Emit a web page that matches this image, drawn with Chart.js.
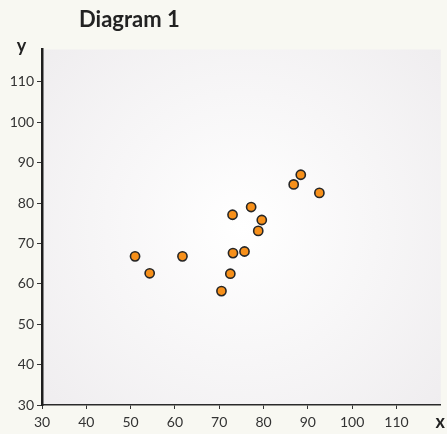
<!DOCTYPE html>
<html>
<head>
<meta charset="utf-8">
<script src="https://cdn.jsdelivr.net/npm/chart.js@4/dist/chart.umd.min.js"></script>
<style>
  html, body { margin: 0; padding: 0; background: #f8f8f2; }
  #wrap { width: 447px; height: 434px; }
</style>
</head>
<body>
<div id="wrap"><canvas id="c" width="447" height="434"></canvas></div>
<script>
const chartTitle = 'Diagram 1';
const xAxisLabel = 'x';
const yAxisLabel = 'y';
const xValues = [51.0, 54.3, 61.7, 70.5, 72.5, 73.1, 75.7, 73.0, 77.2, 79.6, 78.8, 86.8, 88.4, 92.6];
const yValues = [66.8, 62.6, 66.8, 58.2, 62.5, 67.6, 68.0, 77.1, 79.0, 75.8, 73.1, 84.6, 87.0, 82.5];
const xTicks = [30, 40, 50, 60, 70, 80, 90, 100, 110];
const yTicks = [30, 40, 50, 60, 70, 80, 90, 100, 110];
const xRange = [30, 120];
const yRange = [30, 118];

const points = xValues.map((x, i) => ({ x: x, y: yValues[i] }));

const decor = {
  id: 'decor',
  beforeDraw(chart) {
    const { ctx, chartArea: a } = chart;
    ctx.save();
    ctx.fillStyle = '#f8f8f2';
    ctx.fillRect(0, 0, chart.width, chart.height);
    const cx = (a.left + a.right) / 2, cy = (a.top + a.bottom) / 2;
    const g = ctx.createRadialGradient(cx, cy, 0, cx, cy, 270);
    g.addColorStop(0, '#ffffff');
    g.addColorStop(1, '#efedef');
    ctx.fillStyle = g;
    ctx.fillRect(a.left, a.top, a.right - a.left, a.bottom - a.top);
    ctx.restore();
  },
  afterDraw(chart) {
    const { ctx } = chart;
    const xs = chart.scales.x;
    ctx.save();
    ctx.fillStyle = '#222222';
    ctx.font = 'bold 22px Lato';
    ctx.textAlign = 'left';
    ctx.textBaseline = 'alphabetic';
    ctx.fillText(chartTitle, 79, 27);
    ctx.font = 'bold 18px Lato';
    ctx.textAlign = 'center';
    ctx.fillText(yAxisLabel, 21.5, 52);
    ctx.fillText(xAxisLabel, xs.getPixelForValue(xRange[1]) - 0.5, 428);
    ctx.restore();
  }
};

new Chart(document.getElementById('c'), {
  type: 'scatter',
  data: {
    datasets: [{
      data: points,
      backgroundColor: '#f7901a',
      borderColor: '#262626',
      borderWidth: 1.6,
      pointRadius: 4.6,
      pointHoverRadius: 4.6
    }]
  },
  options: {
    responsive: false,
    animation: false,
    devicePixelRatio: 1,
    layout: { padding: { top: 49.5, left: 0, right: 4, bottom: 0 } },
    plugins: { legend: { display: false }, tooltip: { enabled: false }, title: { display: false } },
    scales: {
      x: {
        type: 'linear',
        min: xRange[0], max: xRange[1],
        afterFit(s) { s.height = 29; },
        afterBuildTicks(s) { s.ticks = xTicks.map(v => ({ value: v })); },
        ticks: { color: '#333333', font: { family: 'Lato', size: 14 }, padding: 5, maxRotation: 0, autoSkip: false },
        grid: { drawOnChartArea: false, drawTicks: true, tickLength: 4, color: '#333333', lineWidth: 1 },
        border: { display: true, color: '#2a2a2a', width: 1.5 }
      },
      y: {
        type: 'linear',
        min: yRange[0], max: yRange[1],
        afterFit(s) { s.width = 42; },
        afterBuildTicks(s) { s.ticks = yTicks.map(v => ({ value: v })); },
        ticks: { color: '#333333', font: { family: 'Lato', size: 14 }, padding: 3, autoSkip: false },
        grid: { drawOnChartArea: false, drawTicks: true, tickLength: 5, color: '#333333', lineWidth: 1 },
        border: { display: true, color: '#1e1e1e', width: 2.5 }
      }
    }
  },
  plugins: [decor]
});
</script>
</body>
</html>
